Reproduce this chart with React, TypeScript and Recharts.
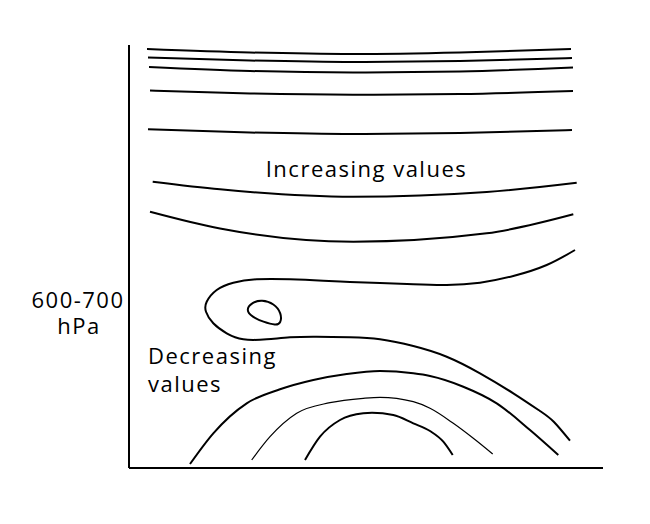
import React from 'react';
import { LineChart, Line, XAxis, YAxis, ReferenceLine } from 'recharts';

// schematic contour lines, x/y in plot units (left axis = 0, bottom axis = 0)
const upper1 = [
    { x: 18, y: 419 }, { x: 121, y: 415.5 }, { x: 224, y: 414 }, { x: 331, y: 415.5 }, { x: 442, y: 419 },
];
const upper2 = [
    { x: 19, y: 410.5 }, { x: 121, y: 407.5 }, { x: 224, y: 406 }, { x: 331, y: 407 }, { x: 443, y: 410 },
];
const upper3 = [
    { x: 20, y: 401 }, { x: 121, y: 397 }, { x: 224, y: 395.5 }, { x: 331, y: 396.5 }, { x: 444, y: 400.5 },
];
const upper4 = [
    { x: 21, y: 377.5 }, { x: 121, y: 374.5 }, { x: 224, y: 373.3 }, { x: 331, y: 374 }, { x: 444, y: 377 },
];
const upper5 = [
    { x: 19, y: 338.7 }, { x: 121, y: 335.5 }, { x: 224, y: 334 }, { x: 331, y: 335 }, { x: 443, y: 338 },
];
const upper6 = [
    { x: 23.7, y: 286.3 }, { x: 91, y: 278.7 }, { x: 224.3, y: 271.3 }, { x: 357.7, y: 276 }, { x: 447.7, y: 285.3 },
];
const upper7 = [
    { x: 21, y: 256.3 }, { x: 91, y: 239.5 }, { x: 224.3, y: 226.3 }, { x: 357.7, y: 234.7 }, { x: 444.3, y: 253.7 },
];

// the tongue of low values reaching in from the right
const hook = [
    { x: 446, y: 218 }, { x: 417.7, y: 203 }, { x: 384.3, y: 192 }, { x: 351, y: 185.3 },
    { x: 317.7, y: 183 }, { x: 284.3, y: 183.7 }, { x: 251, y: 185 }, { x: 221, y: 186 },
    { x: 194.3, y: 187.3 }, { x: 161, y: 188.7 }, { x: 127.7, y: 188.7 }, { x: 104.3, y: 185.3 },
    { x: 87.7, y: 178 }, { x: 77.7, y: 166.3 }, { x: 77, y: 156.3 }, { x: 84.3, y: 144.7 },
    { x: 97.7, y: 134.7 }, { x: 114.3, y: 128.7 }, { x: 137.7, y: 128.7 }, { x: 161, y: 130.7 },
    { x: 187.7, y: 131.3 }, { x: 221, y: 130.7 }, { x: 251, y: 128.7 }, { x: 284.3, y: 122 },
    { x: 317.7, y: 111.3 }, { x: 351, y: 94.7 }, { x: 384.3, y: 74.7 }, { x: 411, y: 57 },
    { x: 425, y: 46 }, { x: 441, y: 27.3 },
];

// closed minimum (control points for a closed b-spline)
const cell = [
    { x: 116.6, y: 158.3 }, { x: 123.2, y: 165.6 }, { x: 132.5, y: 168.2 }, { x: 145.2, y: 164.5 },
    { x: 152.6, y: 154.6 }, { x: 151.8, y: 144.7 }, { x: 147.1, y: 142.5 }, { x: 134.2, y: 146.2 },
    { x: 123.2, y: 150.9 },
];

const arcOuter = [
    { x: 61, y: 4 }, { x: 84.3, y: 34.7 }, { x: 117.7, y: 64.7 }, { x: 151, y: 78.7 },
    { x: 184.3, y: 88 }, { x: 217.7, y: 94 }, { x: 251, y: 97 }, { x: 284.3, y: 94.7 },
    { x: 301, y: 92 }, { x: 334.3, y: 81.3 }, { x: 367.7, y: 64.7 }, { x: 401, y: 38 }, { x: 429.3, y: 13 },
];
const arcMiddle = [
    { x: 122.7, y: 8 }, { x: 141, y: 31.3 }, { x: 167.7, y: 54.7 }, { x: 201, y: 65.3 },
    { x: 234.3, y: 69.7 }, { x: 251, y: 70.7 }, { x: 284.3, y: 66.3 }, { x: 301, y: 59.7 },
    { x: 324.3, y: 44.7 }, { x: 344.3, y: 29.7 }, { x: 363.7, y: 14 },
];
const arcInner = [
    { x: 176, y: 8 }, { x: 191, y: 31.3 }, { x: 211, y: 48 }, { x: 234.3, y: 54.7 },
    { x: 243, y: 55.2 }, { x: 264.3, y: 53 }, { x: 284.3, y: 44.7 }, { x: 301, y: 37 },
    { x: 314.3, y: 26.3 }, { x: 323.7, y: 13 },
];

const upperLines = [upper1, upper2, upper3, upper4, upper5, upper6, upper7];

const FONT = '"Open Sans", sans-serif';

const lineProps = { dataKey: 'y', stroke: '#000', dot: false, activeDot: false, isAnimationActive: false } as const;

export default function App() {
    return (
        <div style={{ position: 'absolute', left: 0, top: 0, width: 650, height: 524, background: '#fff' }}>
            <LineChart width={650} height={524} margin={{ top: 45, right: 47, bottom: 56, left: 129 }}>
                <XAxis type="number" dataKey="x" domain={[0, 474]} allowDataOverflow hide />
                <YAxis type="number" dataKey="y" domain={[0, 423]} allowDataOverflow hide />
                <ReferenceLine x={0} stroke="#000" strokeWidth={2} />
                <ReferenceLine y={0} stroke="#000" strokeWidth={2} />
                {upperLines.map((d, i) => (
                    <Line key={i} data={d} type="monotone" strokeWidth={2} {...lineProps} />
                ))}
                <Line data={hook} type="natural" strokeWidth={2} {...lineProps} />
                <Line data={cell} type="basisClosed" strokeWidth={2} {...lineProps} />
                <Line data={arcOuter} type="monotone" strokeWidth={2} {...lineProps} />
                <Line data={arcMiddle} type="monotone" strokeWidth={1.2} {...lineProps} />
                <Line data={arcInner} type="monotone" strokeWidth={2} {...lineProps} />
            </LineChart>
            <svg width={650} height={524} style={{ position: 'absolute', left: 0, top: 0, pointerEvents: 'none' }}>
                <g fontFamily={FONT} fontSize={22} letterSpacing={1.5} fill="#000">
                    <text x={366.5} y={176.5} textAnchor="middle">Increasing values</text>
                    <text x={148} y={364}>Decreasing</text>
                    <text x={148} y={391.7}>values</text>
                    <text x={78} y={308.3} textAnchor="middle">600-700</text>
                    <text x={79} y={334} textAnchor="middle">hPa</text>
                </g>
            </svg>
        </div>
    );
}
